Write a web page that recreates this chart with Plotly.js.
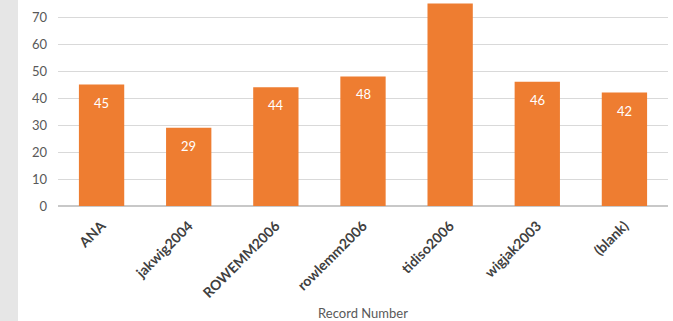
<!DOCTYPE html>
<html>
<head>
<meta charset="utf-8">
<script src="https://cdn.plot.ly/plotly-3.0.1.min.js"></script>
<style>
  html, body { margin: 0; padding: 0; }
  body { width: 673px; height: 321px; background: linear-gradient(to right, #e6e6e6 0px, #e6e6e6 18px, #ffffff 18px); overflow: hidden; }
  #chart { width: 673px; height: 321px; }
</style>
</head>
<body>
<div id="chart"></div>
<script>
const categories = ["ANA", "jakwig2004", "ROWEMM2006", "rowlemm2006", "tidiso2006", "wigjak2003", "(blank)"];
const counts = [45, 29, 44, 48, 75, 46, 42];
const shownLabels = [true, true, true, true, false, true, true];
const yTicks = [0, 10, 20, 30, 40, 50, 60, 70];

const trace = {
  type: "bar",
  x: categories,
  y: counts,
  marker: { color: "#ee7d31", line: { width: 0 } },
  hoverinfo: "none",
  cliponaxis: true
};

const annotations = categories
  .map((c, i) => ({ c, v: counts[i], show: shownLabels[i] }))
  .filter(d => d.show)
  .map(d => ({
    x: d.c, y: d.v, xref: "x", yref: "y",
    text: String(d.v), showarrow: false,
    yanchor: "middle", yshift: -18,
    font: { family: "Lato, 'Open Sans', sans-serif", size: 13, color: "#ffffff" }
  }));

const layout = {
  width: 673,
  height: 321,
  margin: { l: 58, r: 5, t: 0, b: 115 },
  paper_bgcolor: "rgba(0,0,0,0)",
  plot_bgcolor: "#ffffff",
  bargap: 0.48,
  showlegend: false,
  annotations: annotations,
  font: { family: "Lato, 'Open Sans', sans-serif", color: "#595959", size: 12 },
  xaxis: {
    type: "category",
    tickangle: -45,
    showgrid: false,
    showline: false,
    zeroline: false,
    ticks: "",
    ticklabelstandoff: 8,
    tickfont: { family: "Lato, 'Open Sans', sans-serif", size: 14, color: "#404040", weight: "bold" },
    title: { text: "Record Number", font: { family: "Lato, 'Open Sans', sans-serif", size: 13, color: "#595959" }, standoff: 14 },
    automargin: false
  },
  yaxis: {
    range: [0, 76.3],
    tickvals: yTicks,
    ticktext: yTicks.map(String),
    showgrid: true,
    gridcolor: "#d9d9d9",
    gridwidth: 1,
    zeroline: true,
    zerolinecolor: "#c8c8c8",
    zerolinewidth: 2,
    showline: false,
    ticks: "",
    ticklabelstandoff: 10,
    tickfont: { family: "Lato, 'Open Sans', sans-serif", size: 13, color: "#595959" },
    automargin: false
  }
};

Plotly.newPlot("chart", [trace], layout, { displayModeBar: false, staticPlot: true });
</script>
</body>
</html>
